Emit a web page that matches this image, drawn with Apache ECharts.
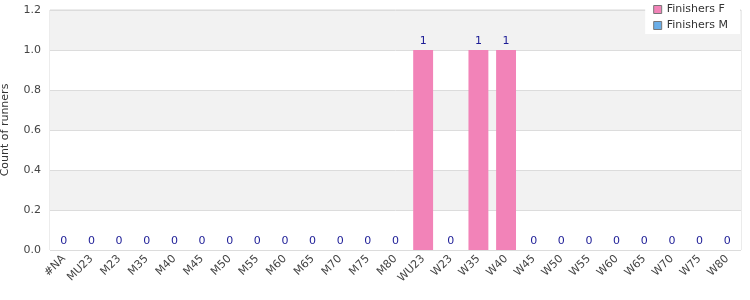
<!DOCTYPE html>
<html><head><meta charset="utf-8">
<script src="https://cdn.jsdelivr.net/npm/echarts@6/dist/echarts.min.js"></script>
<style>html,body{margin:0;padding:0;background:#fff}#c{width:750px;height:300px}</style>
</head><body><div id="c"></div>
<script>
const categories = ['#NA','MU23','M23','M35','M40','M45','M50','M55','M60','M65','M70','M75','M80','WU23','W23','W35','W40','W45','W50','W55','W60','W65','W70','W75','W80'];
const finishersF = [0,0,0,0,0,0,0,0,0,0,0,0,0,1,0,1,1,0,0,0,0,0,0,0,0];
const finishersM = [0,0,0,0,0,0,0,0,0,0,0,0,0,0,0,0,0,0,0,0,0,0,0,0,0];
const yTicks = {min:0, max:1.2, interval:0.2};

const chart = echarts.init(document.getElementById('c'), null, {renderer:'canvas'});
const totals = finishersF.map((v,i)=>v+finishersM[i]);
chart.setOption({
  animation:false,
  textStyle:{fontFamily:'DejaVu Sans'},
  grid:{left:50,right:9,top:10,bottom:50,show:true,borderColor:'#d8d8d8',borderWidth:1,backgroundColor:'transparent',containLabel:false,outerBoundsMode:'none'},
  legend:{
    orient:'vertical', right:10, top:1,
    backgroundColor:'#fff', padding:[3,12,3,8],
    icon:'rect',
    itemWidth:8, itemHeight:8, itemGap:5, itemTextGap:10,
    textStyle:{fontSize:11,color:'#333'},
    data:[{name:'Finishers F',itemStyle:{borderColor:'#777',borderWidth:1}},{name:'Finishers M',itemStyle:{borderColor:'#777',borderWidth:1}}]
  },
  xAxis:{
    type:'category', data:categories,
    axisLine:{show:false}, axisTick:{show:false},
    axisLabel:{rotate:45, fontSize:11, color:'#444', interval:0, margin:7}
  },
  yAxis:{
    type:'value', min:yTicks.min, max:yTicks.max, interval:yTicks.interval,
    name:'Count of runners', nameLocation:'middle', nameGap:39, nameRotate:90,
    nameTextStyle:{fontSize:11,color:'#333'},
    axisLine:{show:false}, axisTick:{show:false},
    axisLabel:{fontSize:11,color:'#444',formatter:v=>v.toFixed(1),margin:9},
    splitLine:{lineStyle:{color:'#dcdcdc'}},
    splitArea:{show:true,areaStyle:{color:['#ffffff','#f2f2f2']}}
  },
  series:[
    {name:'Finishers F',type:'bar',stack:'a',data:finishersF,barWidth:'72%',
     itemStyle:{color:'#f283b8'}},
    {name:'Finishers M',type:'bar',stack:'a',data:finishersM,barWidth:'72%',
     itemStyle:{color:'#6aaee8'},
     label:{show:true,position:'top',color:'#1c1c96',fontSize:11,distance:3,
       formatter:p=>String(totals[p.dataIndex])}}
  ]
});
</script></body></html>
